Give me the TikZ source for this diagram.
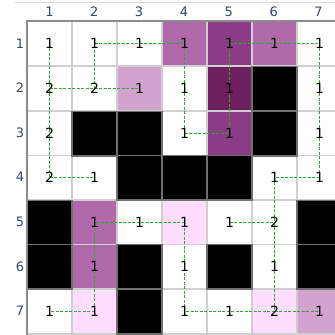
\documentclass[tikz,border=0pt]{standalone}
\usepackage{fontspec}
\setmainfont{DejaVu Sans}
\definecolor{pA}{HTML}{B06AAC}
\definecolor{pB}{HTML}{8C3C87}
\definecolor{pC}{HTML}{6E1F5E}
\definecolor{pD}{HTML}{D3A3D0}
\definecolor{pE}{HTML}{FFDDFF}
\definecolor{wW}{HTML}{FFFFFF}
\definecolor{hdr}{HTML}{3A4660}
\definecolor{gline}{HTML}{30A830}
\definecolor{gridl}{HTML}{CFCFCF}
\definecolor{gridk}{HTML}{707070}
\definecolor{frame}{HTML}{8C8C8C}
\begin{document}
\begin{tikzpicture}[x=1pt,y=-1pt,
  cellbox/.style={draw=gridl,line width=1.4pt,minimum width=44.85pt,minimum height=44.6pt,inner sep=0pt},
  blackbox/.style={cellbox,draw=gridk},
  digit/.style={font=\fontsize{14}{16}\selectfont,inner sep=0pt,text=black},
  hdrtxt/.style={font=\fontsize{13}{15}\selectfont,text=hdr,inner sep=0pt},
  link/.style={draw=gline,line width=1.5pt,line cap=butt,dash pattern=on 3pt off 1.5pt}]
\useasboundingbox (0,0) rectangle (335,335);
\fill[white] (0,0) rectangle (335,335);
\begin{scope}
\clip (0,0) rectangle (335,335);
\draw[gridl!70,line width=0.8pt] (15,2) -- (335,2);
\foreach \r/\c/\f in {
 1/1/wW, 1/2/wW, 1/3/wW, 1/4/pA, 1/5/pB, 1/6/pA, 1/7/wW,
 2/1/wW, 2/2/wW, 2/3/pD, 2/4/wW, 2/5/pC, 2/7/wW,
 3/1/wW, 3/4/wW, 3/5/pB, 3/7/wW,
 4/1/wW, 4/2/wW, 4/6/wW, 4/7/wW,
 5/2/pA, 5/3/wW, 5/4/pE, 5/5/wW, 5/6/wW,
 6/2/pA, 6/4/wW, 6/6/wW,
 7/1/wW, 7/2/pE, 7/4/wW, 7/5/wW, 7/6/pE, 7/7/pD}
{
 \node[cellbox,fill=\f] (c\r\c) at ({round(27+44.85*(\c-0.5))+0.5},{round(21+44.6*(\r-0.5))+0.5}) {};
}
\foreach \r/\c in {2/6, 3/2, 3/3, 3/6, 4/3, 4/4, 4/5, 5/1, 5/7, 6/1, 6/3, 6/5, 6/7, 7/3}
{
 \node[blackbox,fill=black] (k\r\c) at ({round(27+44.85*(\c-0.5))+0.5},{round(21+44.6*(\r-0.5))+0.5}) {};
}
\draw[frame,line width=1.6pt] (27,335) -- (27,21) -- (335,21);
% connectors
\foreach \a/\b in {11/21, 21/31, 31/41, 41/42, 21/22, 22/23, 22/12, 12/13, 13/14,
  14/24, 24/34, 34/35, 35/25, 25/15, 15/16, 16/17, 17/27, 27/37, 37/47, 47/46,
  46/56, 56/66, 66/76, 76/77, 55/56, 76/75, 75/74, 74/64, 64/54, 54/53, 53/52,
  52/62, 62/72, 72/71}
{
 \draw[link] (c\a.center) -- (c\b.center);
}
% digits
\foreach \r/\c/\t in {
 1/1/1, 1/2/1, 1/3/1, 1/4/1, 1/5/1, 1/6/1, 1/7/1,
 2/1/2, 2/2/2, 2/3/1, 2/4/1, 2/5/1, 2/7/1,
 3/1/2, 3/4/1, 3/5/1, 3/7/1,
 4/1/2, 4/2/1, 4/6/1, 4/7/1,
 5/2/1, 5/3/1, 5/4/1, 5/5/1, 5/6/2,
 6/2/1, 6/4/1, 6/6/1,
 7/1/1, 7/2/1, 7/4/1, 7/5/1, 7/6/2, 7/7/1}
{
 \node[digit] (d\r\c) at (c\r\c.center) {\t};
}
% headers
\foreach \i in {1,...,7} {
 \node[hdrtxt] (h\i) at ({27+44.85*(\i-0.5)},12) {\i};
 \node[hdrtxt] (v\i) at (20,{21+44.6*(\i-0.5)}) {\i};
}
\end{scope}
\end{tikzpicture}
\end{document}
